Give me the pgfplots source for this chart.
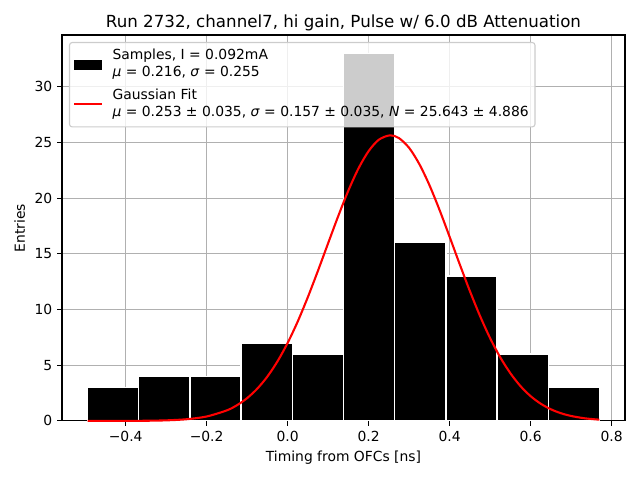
\documentclass[border=0pt]{standalone}
\usepackage{pgfplots}
\pgfplotsset{compat=1.18}
\usepackage{fontspec}
\setmainfont{DejaVu Sans}
\pgfdeclarelayer{curve}
\pgfplotsset{layers/mylayers/.define layer set={axis background,main,axis grid,axis ticks,axis lines,axis tick labels,curve,axis descriptions,axis foreground}{}}
\definecolor{gridgray}{HTML}{B0B0B0}
\definecolor{legedge}{HTML}{CCCCCC}
\begin{document}
\begin{tikzpicture}
\begin{axis}[
  set layers=mylayers,
  scale only axis, width=405.4pt, height=277.9pt,
  at={(0,0)}, anchor=south west,
  xmin=-0.5572, xmax=0.8332, ymin=0, ymax=34.65,
  xtick={-0.4,-0.2,0,0.2,0.4,0.6,0.8},
  xticklabels={−0.4,−0.2,0.0,0.2,0.4,0.6,0.8},
  ytick={0,5,10,15,20,25,30},
  /pgf/number format/assume math mode=true,
  tick align=outside, tick pos=left, major tick length=3.5pt,
  every tick/.style={black, line width=0.8pt},
  axis line style={line width=0.8pt},
  grid=major, grid style={color=gridgray, line width=0.8pt},
  tick label style={font=\fontsize{10}{12}\selectfont},
  label style={font=\fontsize{10}{12}\selectfont},
  title style={font=\fontsize{12}{14}\selectfont, yshift=-6.5pt},
  title={Run 2732, channel7, hi gain, Pulse w/ 6.0 dB Attenuation},
  xlabel={Timing from OFCs [ns]}, ylabel={Entries},
  legend cell align=left,
  legend style={at={(0,1)}, anchor=north west, xshift=5pt, yshift=-5pt,
    draw=legedge, line width=0.8pt, fill=white, fill opacity=0.8, draw opacity=1, text opacity=1,
    rounded corners=2pt, font=\fontsize{10}{12.2}\selectfont, row sep=0pt, inner xsep=2.5pt, inner ysep=2pt,
    column sep=5pt, nodes={inner sep=2pt, text depth=}},
]
\addplot[ybar interval, fill=black, draw=white, line width=1pt,
  legend image code/.code={\fill[black, fill opacity=1, draw=none, sharp corners] (0pt,-3.5pt) rectangle (20pt,3.5pt);}]
  coordinates {(-0.494,3) (-0.3676,4) (-0.2412,4) (-0.1148,7) (0.0116,6) (0.138,33) (0.2644,16) (0.3908,13) (0.5172,6) (0.6436,3) (0.770,3)};
\addlegendentry{\begin{tabular}{@{}l@{}}Samples, I = 0.092mA\\\textit{μ} = 0.216, \textit{σ} = 0.255\end{tabular}}
\addplot[on layer=curve, red, line width=1.5pt, smooth,
  legend image code/.code={\draw[red, line width=1.5pt, draw opacity=1, sharp corners] (0pt,0pt) -- (20pt,0pt);}]
  coordinates {
  (-0.494,0.0003) (-0.45,0.0011) (-0.4,0.0045) (-0.35,0.016) (-0.3,0.052) (-0.25,0.151)
  (-0.2,0.399) (-0.15,0.951) (-0.125,1.413) (-0.1,2.047) (-0.075,2.893) (-0.05,3.983) (-0.025,5.35)
  (0,7.00) (0.025,8.93) (0.05,11.12) (0.075,13.49) (0.1,15.95) (0.125,18.39) (0.15,20.68)
  (0.175,22.67) (0.2,24.22) (0.225,25.24) (0.253,25.643) (0.275,25.39) (0.3,24.52) (0.325,23.08)
  (0.35,21.19) (0.375,18.96) (0.4,16.54) (0.425,14.07) (0.45,11.67) (0.475,9.44) (0.5,7.44)
  (0.525,5.72) (0.55,4.29) (0.575,3.13) (0.6,2.228) (0.625,1.549) (0.65,1.049) (0.675,0.692)
  (0.7,0.445) (0.735,0.230) (0.77,0.113)};
\addlegendentry{\begin{tabular}{@{}l@{}}Gaussian Fit\\\textit{μ} = 0.253 ± 0.035, \textit{σ} = 0.157 ± 0.035, \textit{N} = 25.643 ± 4.886\end{tabular}}
\end{axis}
\pgfresetboundingbox
\path[use as bounding box] (-44.64pt,-42.48pt) rectangle (416.2pt,303.1pt);
\end{tikzpicture}
\end{document}
